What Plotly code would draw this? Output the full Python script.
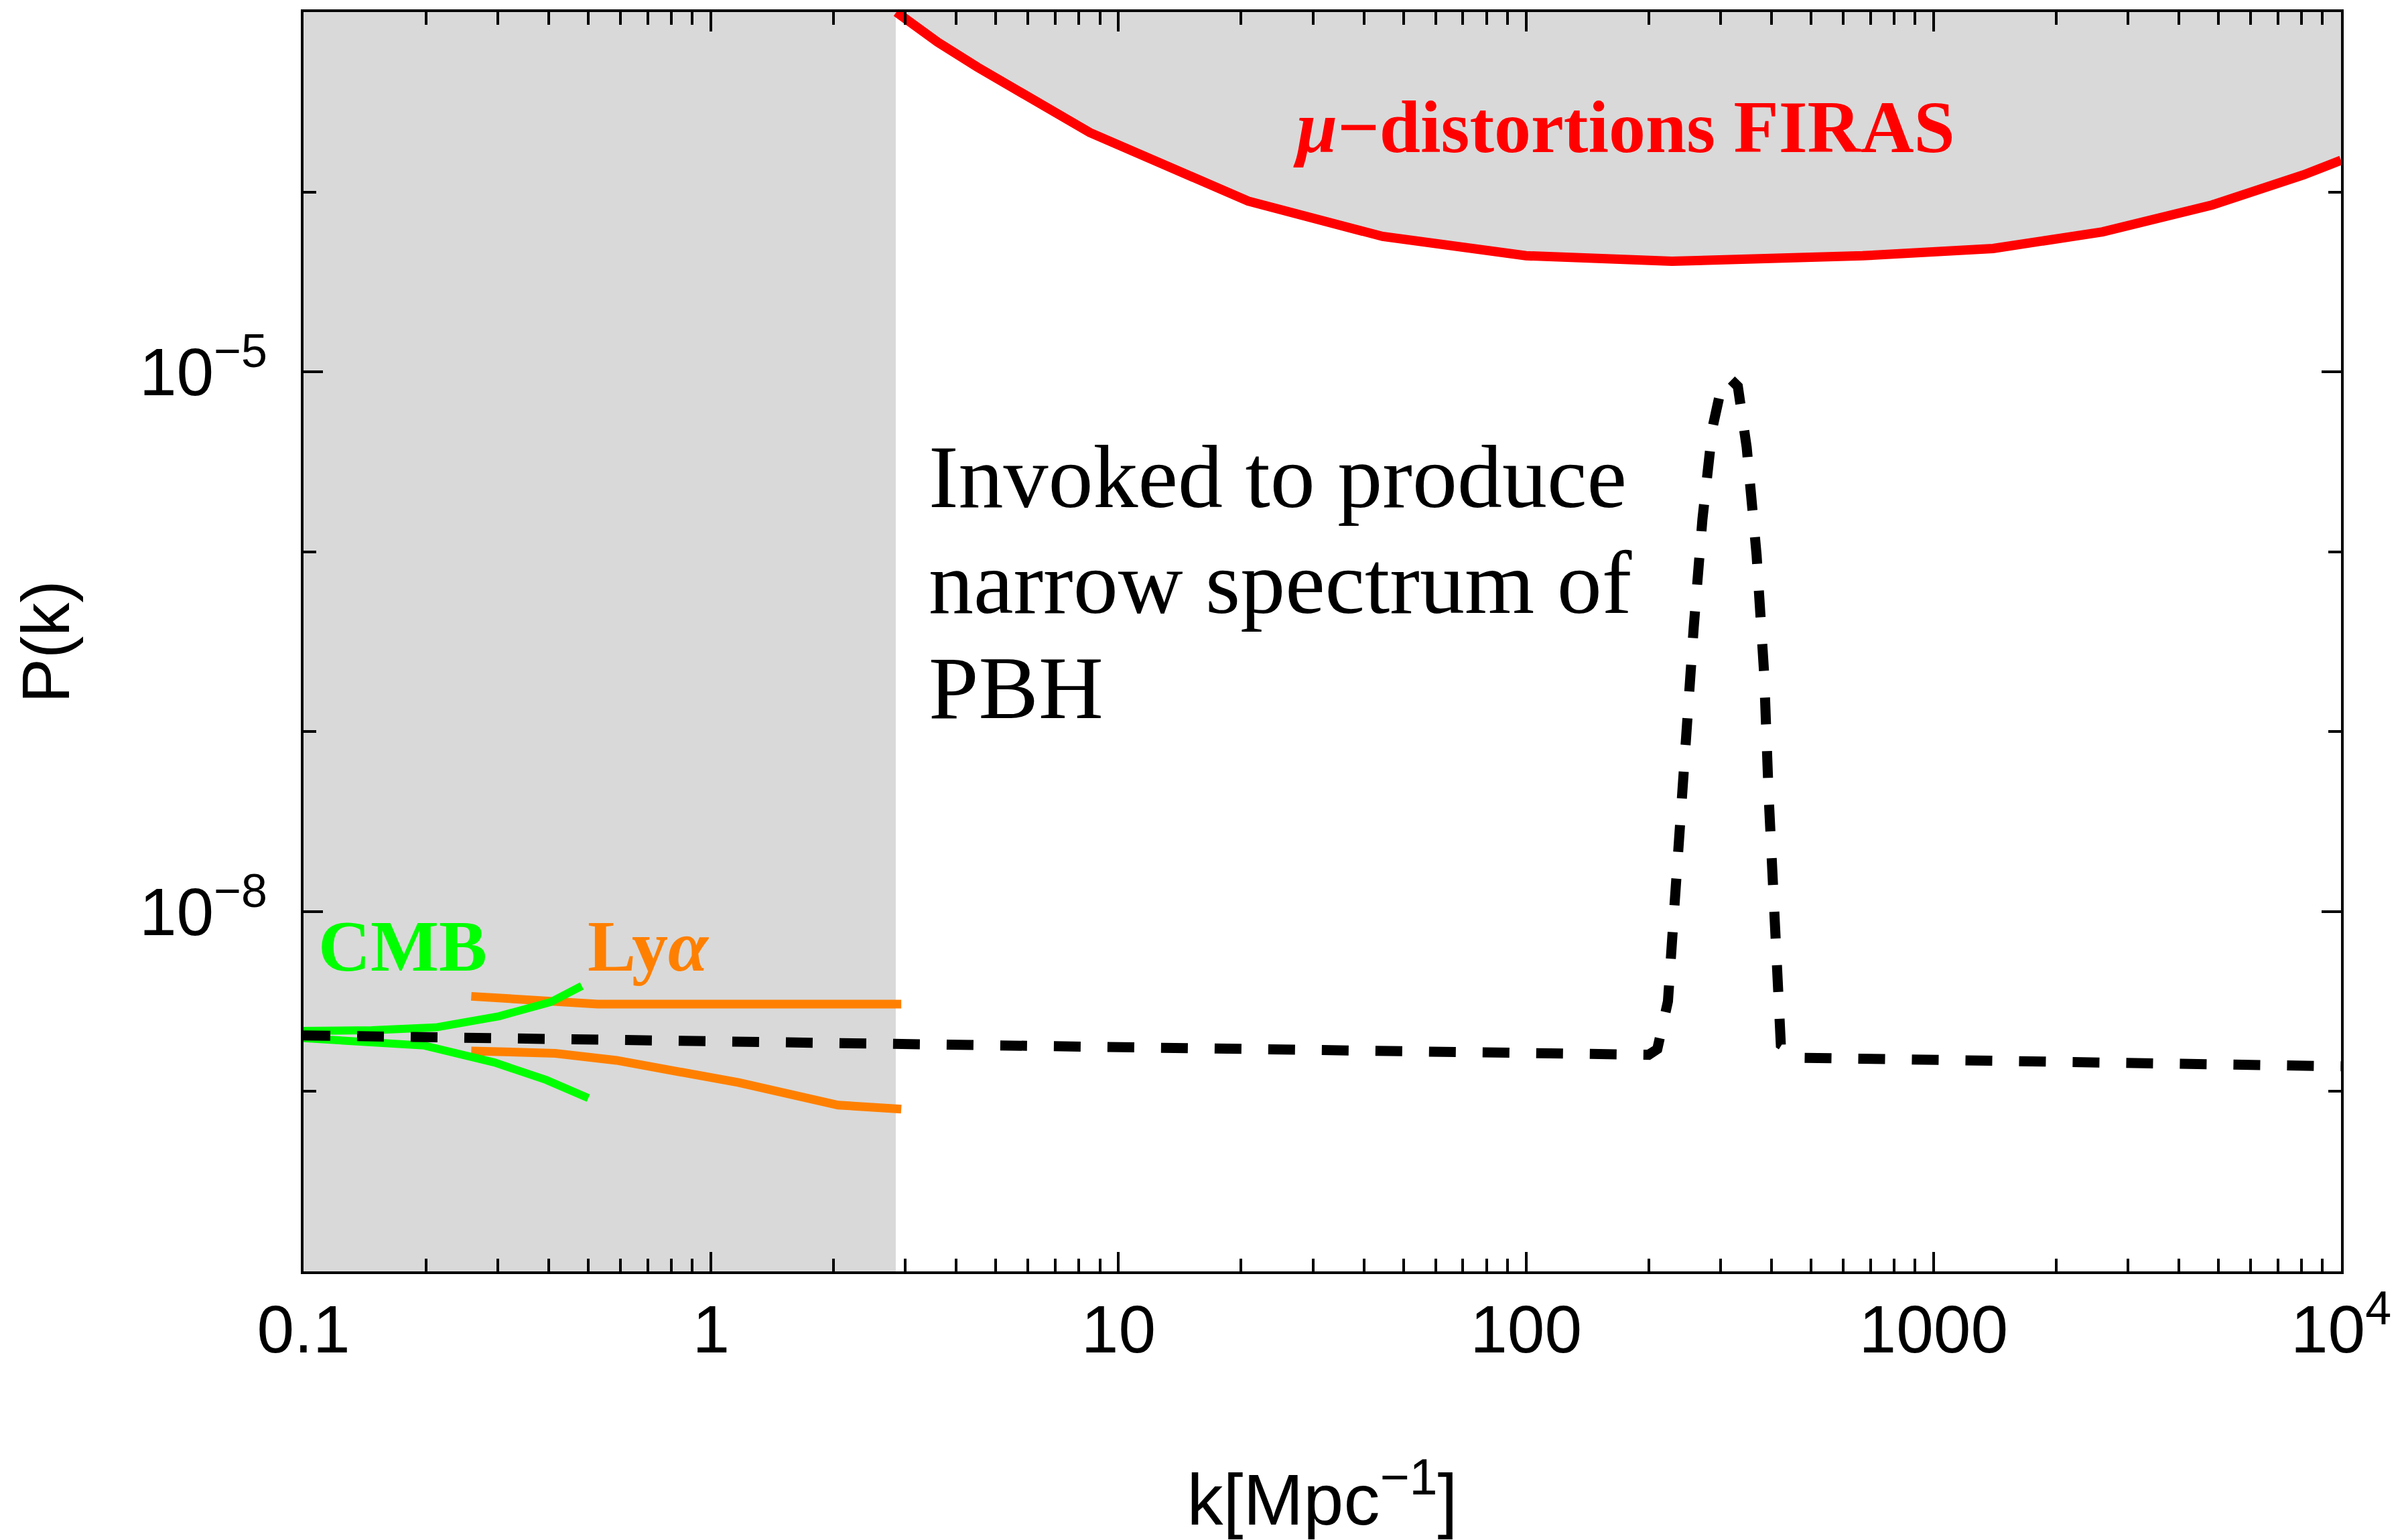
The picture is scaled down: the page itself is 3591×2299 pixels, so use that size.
import plotly.graph_objects as go

# ---------------- data ----------------
# excluded band at small k (grey, left)
band_k = [0.1, 2.84]
axis_P = [1e-10, 1e-3]

# mu-distortions FIRAS bound
mu_k = [2.85, 3.6, 4.5, 8.5, 20.8, 44.5, 100, 228, 670, 1400, 2600, 4830, 8100, 10000]
mu_P = [1.0e-3, 6.8e-4, 4.95e-4, 2.14e-4, 8.9e-5, 5.66e-5, 4.42e-5, 4.12e-5,
        4.42e-5, 4.85e-5, 6.0e-5, 8.47e-5, 1.245e-4, 1.50e-4]

# CMB band
cmb_up_k = [0.1, 0.147, 0.211, 0.302, 0.404, 0.482]
cmb_up_P = [2.17e-9, 2.19e-9, 2.27e-9, 2.62e-9, 3.14e-9, 3.86e-9]
cmb_lo_k = [0.1, 0.198, 0.294, 0.394, 0.500]
cmb_lo_P = [1.98e-9, 1.80e-9, 1.45e-9, 1.16e-9, 9.2e-10]

# Lyman-alpha band
lya_up_k = [0.258, 0.527, 2.93]
lya_up_P = [3.38e-9, 3.06e-9, 3.06e-9]
lya_lo_k = [0.258, 0.415, 0.586, 1.17, 2.05, 2.93]
lya_lo_P = [1.68e-9, 1.63e-9, 1.49e-9, 1.12e-9, 8.4e-10, 7.98e-10]

# PBH-inducing narrow peaked spectrum
pbh_k = [0.1, 1, 10, 100, 200, 210, 223, 229, 236, 245, 258, 271, 287, 303, 316,
         331, 348, 368, 384, 394, 406, 414, 422, 474, 1250, 2260, 10000]
pbh_P = [2.05e-9, 1.90e-9, 1.75e-9, 1.63e-9, 1.60e-9, 1.72e-9, 3.17e-9, 7.7e-9,
         2.13e-8, 8.45e-8, 3.82e-7, 1.52e-6, 4.92e-6, 8.6e-6, 9.2e-6, 8.3e-6,
         3.80e-6, 9.6e-7, 2.11e-7, 4.37e-8, 8.5e-9, 2.79e-9, 1.82e-9, 1.54e-9,
         1.49e-9, 1.45e-9, 1.38e-9]

x_ticks = [0.1, 1, 10, 100, 1000, 10000]
x_ticktext = ["0.1", "1", "10", "100", "1000", "10<sup>4</sup>"]
y_ticks = [1e-8, 1e-5]
y_ticktext = ["10<sup>\u22128</sup>", "10<sup>\u22125</sup>"]
y_minor = [1e-10, 1e-9, 1e-8, 1e-7, 1e-6, 1e-5, 1e-4, 1e-3]
x_minor = [m * 10.0 ** d for d in range(-1, 4) for m in range(2, 10)]

GREY = "#d9d9d9"
SANS = "Liberation Sans, Arial, sans-serif"
SERIF = "Liberation Serif, Times New Roman, serif"

fig = go.Figure()

# grey band at low k
fig.add_trace(go.Scatter(
    x=[band_k[0], band_k[1], band_k[1], band_k[0]],
    y=[axis_P[0], axis_P[0], axis_P[1], axis_P[1]],
    fill="toself", fillcolor=GREY, mode="none", showlegend=False, hoverinfo="skip"))

# grey region above the FIRAS curve
fig.add_trace(go.Scatter(
    x=mu_k + [mu_k[-1], mu_k[0]],
    y=mu_P + [axis_P[1], axis_P[1]],
    fill="toself", fillcolor=GREY, mode="none", showlegend=False, hoverinfo="skip"))

fig.add_trace(go.Scatter(x=mu_k, y=mu_P, mode="lines",
                         line=dict(color="#ff0000", width=14), showlegend=False))

for kk, pp in [(lya_up_k, lya_up_P), (lya_lo_k, lya_lo_P)]:
    fig.add_trace(go.Scatter(x=kk, y=pp, mode="lines",
                             line=dict(color="#ff8000", width=13), showlegend=False))
for kk, pp in [(cmb_up_k, cmb_up_P), (cmb_lo_k, cmb_lo_P)]:
    fig.add_trace(go.Scatter(x=kk, y=pp, mode="lines",
                             line=dict(color="#00ff00", width=12), showlegend=False))

fig.add_trace(go.Scatter(x=pbh_k, y=pbh_P, mode="lines",
                         line=dict(color="black", width=15, dash="40px,40px"),
                         showlegend=False))

# dummy trace for overlay (minor tick) axes
fig.add_trace(go.Scatter(x=[None], y=[None], xaxis="x2", yaxis="y2",
                         showlegend=False, hoverinfo="skip"))

axis_common = dict(showgrid=False, zeroline=False, ticks="inside", tickwidth=4,
                   tickcolor="black", mirror="ticks")

fig.update_layout(
    width=3591, height=2299,
    margin=dict(l=453, r=97, t=18, b=401, autoexpand=False),
    paper_bgcolor="white", plot_bgcolor="white",
    showlegend=False,
    xaxis=dict(type="log", range=[-1, 4], tickvals=x_ticks, ticktext=x_ticktext,
               ticklen=29, showline=True, linewidth=4, linecolor="black",
               tickfont=dict(family=SANS, size=100, color="black"),
               ticklabelstandoff=-3,
               title=dict(text="k[Mpc<sup>\u22121</sup>]",
                          font=dict(family=SANS, size=108, color="black"),
                          standoff=178),
               automargin=False, **axis_common),
    yaxis=dict(type="log", range=[-10, -3], tickvals=y_ticks, ticktext=y_ticktext,
               ticklen=29, showline=True, linewidth=4, linecolor="black",
               tickfont=dict(family=SANS, size=100, color="black"),
               ticklabelstandoff=30,
               title=dict(text="P(k)", font=dict(family=SANS, size=100, color="black"),
                          standoff=72),
               automargin=False, **axis_common),
    xaxis2=dict(type="log", range=[-1, 4], overlaying="x", anchor="y2",
                tickvals=x_minor, ticklen=19, showticklabels=False, showline=False,
                **axis_common),
    yaxis2=dict(type="log", range=[-10, -3], overlaying="y", anchor="x2",
                tickvals=y_minor, ticklen=19, showticklabels=False, showline=False,
                **axis_common),
)

def ann(text, x, y, size, color, xanchor="center"):
    fig.add_annotation(text=text, xref="paper", yref="paper", x=x, y=y,
                       xanchor=xanchor, yanchor="middle", showarrow=False,
                       font=dict(family=SERIF, size=size, color=color))

ann("<b><i>\u03bc</i>\u2212distortions FIRAS</b>", 0.648, 0.9085, 110, "#ff0000")
ann("Invoked to produce", 0.3062, 0.6309, 134, "black", xanchor="left")
ann("narrow spectrum of", 0.3062, 0.5468, 134, "black", xanchor="left")
ann("PBH", 0.3062, 0.4633, 134, "black", xanchor="left")
ann("<b>CMB</b>", 0.0487, 0.258, 108, "#00ff00")
ann("<b>Ly<i>\u03b1</i></b>", 0.1694, 0.258, 108, "#ff8000")

fig.write_html("out.html")
